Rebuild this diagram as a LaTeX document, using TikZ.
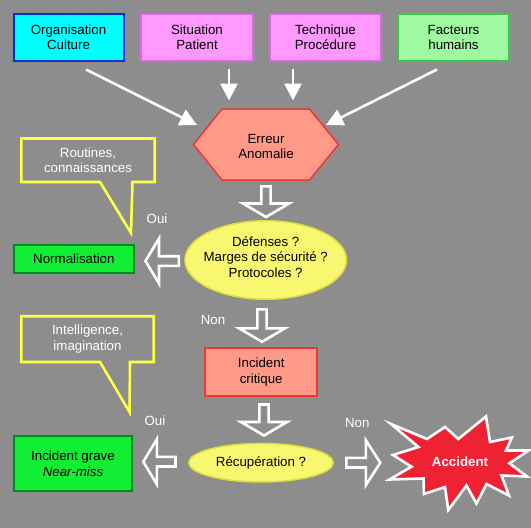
\documentclass[tikz,border=0pt]{standalone}
\usepackage{fontspec}
\setmainfont{Liberation Sans}
\usetikzlibrary{calc,arrows.meta,shapes.geometric}
\definecolor{bg}{RGB}{141,141,141}
\definecolor{cyanF}{RGB}{0,255,255}
\definecolor{cyanB}{RGB}{0,51,204}
\definecolor{pinkF}{RGB}{255,153,255}
\definecolor{pinkB}{RGB}{228,96,228}
\definecolor{ltgreenF}{RGB}{160,248,160}
\definecolor{ltgreenB}{RGB}{51,204,68}
\definecolor{salmonF}{RGB}{255,153,136}
\definecolor{salmonB}{RGB}{232,56,56}
\definecolor{yelF}{RGB}{248,248,112}
\definecolor{yelB}{RGB}{222,222,60}
\definecolor{greenF}{RGB}{17,238,51}
\definecolor{greenB}{RGB}{0,140,30}
\definecolor{calloutY}{RGB}{255,255,68}
\definecolor{accRed}{RGB}{238,34,51}
\newcommand\hollowdown[2]{%
  \draw[hollow] let \p1=(#1), \p2=(#2) in
  (\x1-4.6pt,\y1) -- (\x1+4.6pt,\y1) -- (\x1+4.6pt,\y2+13.5pt) -- (\x1+23pt,\y2+13.5pt)
  -- (\x1,\y2) -- (\x1-23pt,\y2+13.5pt) -- (\x1-4.6pt,\y2+13.5pt) -- cycle;}
\newcommand\hollowleft[2]{%
  \draw[hollow] let \p1=(#1), \p2=(#2) in
  (\x1,\y1-4.8pt) -- (\x1,\y1+4.8pt) -- (\x2+13.5pt,\y1+4.8pt) -- (\x2+13.5pt,\y1+22.5pt)
  -- (\x2,\y1) -- (\x2+13.5pt,\y1-22.5pt) -- (\x2+13.5pt,\y1-4.8pt) -- cycle;}
\newcommand\hollowright[2]{%
  \draw[hollow] let \p1=(#1), \p2=(#2) in
  (\x1,\y1-4.8pt) -- (\x1,\y1+4.8pt) -- (\x2-14.5pt,\y1+4.8pt) -- (\x2-14.5pt,\y1+22.5pt)
  -- (\x2,\y1) -- (\x2-14.5pt,\y1-22.5pt) -- (\x2-14.5pt,\y1-4.8pt) -- cycle;}
\begin{document}
\begin{tikzpicture}[x=1pt,y=-1pt,
  every node/.style={font=\fontsize{13.3}{15.3}\selectfont, align=center, inner sep=0pt},
  box/.style={rectangle, line width=2pt},
  thinarrow/.style={draw=white, line width=2.6pt, -{Triangle[length=17pt,width=17pt]}},
  hollow/.style={draw=white, line width=2.6pt, line join=miter, fill=none},
  callout/.style={draw=calloutY, line width=2.6pt, line join=miter},
  lbl/.style={text=white}]
\fill[bg] (0,0) rectangle (531,528);
\useasboundingbox (0,0) rectangle (531,528);

% top boxes
\node[box, fill=cyanF, draw=cyanB, minimum width=110, minimum height=47.5] (org) at (68.5,37.3) {Organisation\\Culture};
\node[box, fill=pinkF, draw=pinkB, minimum width=112, minimum height=47.5] (sit) at (197,37.3) {Situation\\Patient};
\node[box, fill=pinkF, draw=pinkB, minimum width=111, minimum height=47.5] (tech) at (325.5,37.3) {Technique\\Procédure};
\node[box, fill=ltgreenF, draw=ltgreenB, minimum width=111, minimum height=47.5] (fact) at (453.5,37.3) {Facteurs\\humains};

% hexagon
\coordinate (h1) at (193.5,144.5);
\coordinate (h2) at (222,109);
\coordinate (h3) at (309.5,109);
\coordinate (h4) at (338.5,144.5);
\coordinate (h5) at (309.5,180);
\coordinate (h6) at (222,180);
\draw[fill=salmonF, draw=salmonB, line width=1.5pt, line join=miter] (h1) -- (h2) -- (h3) -- (h4) -- (h5) -- (h6) -- cycle;
\node (err) at (266,146.5) {Erreur\\Anomalie};

% thin arrows
\coordinate (o1) at (86,69.5);
\coordinate (e1) at (197,125);
\coordinate (s1) at (229,69);
\coordinate (e2) at (229,100.5);
\coordinate (t1) at (293,69);
\coordinate (e3) at (293,100.5);
\coordinate (f1) at (437,69.5);
\coordinate (e4) at (326,125);
\draw[thinarrow] (o1) -- (e1);
\draw[thinarrow] (s1) -- (e2);
\draw[thinarrow] (t1) -- (e3);
\draw[thinarrow] (f1) -- (e4);

% defenses ellipse
\node[ellipse, draw=yelB, fill=yelF, line width=1.5pt, minimum width=161.5, minimum height=78.5] (def) at (265.7,260) {};
\node (deftxt) at (265.7,257) {Défenses ?\\Marges de sécurité ?\\Protocoles ?};

% hollow arrows
\coordinate (a1s) at (266,186.3);
\coordinate (a1t) at (266,217);
\hollowdown{a1s}{a1t}
\coordinate (b1s) at (178.8,261);
\coordinate (b1t) at (145.5,261);
\hollowleft{b1s}{b1t}
\coordinate (a2s) at (262,309.3);
\coordinate (a2t) at (262,341.8);
\hollowdown{a2s}{a2t}
\coordinate (a3s) at (264,404.5);
\coordinate (a3t) at (264,435.5);
\hollowdown{a3s}{a3t}
\coordinate (b2s) at (175.5,461.7);
\coordinate (b2t) at (143.3,461.7);
\hollowleft{b2s}{b2t}
\coordinate (c1s) at (346.3,462.7);
\coordinate (c1t) at (380.3,462.7);
\hollowright{c1s}{c1t}

% normalisation
\node[box, fill=greenF, draw=greenB, minimum width=120.3, minimum height=28] (norm) at (73.9,259) {Normalisation};

% callouts
\draw[callout] (21.3,138.5) -- (154.7,138.5) -- (154.7,182) -- (132.5,182) -- (131,233) -- (100,182) -- (21.3,182) -- cycle;
\node[lbl] (rout) at (88,160.3) {Routines,\\connaissances};
\draw[callout] (21.3,316.2) -- (153.7,316.2) -- (153.7,362) -- (130,362) -- (129.5,412) -- (100,362) -- (21.3,362) -- cycle;
\node[lbl] (intel) at (87.5,339) {Intelligence,\\imagination};

% labels
\node[lbl] (oui1) at (157,219) {Oui};
\node[lbl] (non1) at (213,319.5) {Non};
\node[lbl] (oui2) at (155,421) {Oui};
\node[lbl] (non2) at (357.3,423) {Non};

% incident critique
\node[box, fill=salmonF, draw=salmonB, minimum width=112.3, minimum height=48.6] (crit) at (261.2,372) {Incident\\critique};

% recuperation
\node[ellipse, draw=yelB, fill=yelF, line width=1.5pt, minimum width=144.5, minimum height=38.5] (rec) at (261,462.7) {Récupération ?};

% incident grave
\node[box, fill=greenF, draw=greenB, minimum width=118.6, minimum height=55.3] (grave) at (73,463.7) {Incident grave\\\textit{Near-miss}};

% accident starburst
\draw[fill=accRed, draw=white, line width=2.6pt, line join=miter]
  (391,424) -- (427,439) -- (445,427) -- (458.3,439) -- (486,416.5) -- (490,442) -- (512,437.5)
  -- (506,450.5) -- (528.5,450.5) -- (509.5,463.3) -- (527,476.5) -- (501.5,475.5) -- (509,495.5)
  -- (486.5,484) -- (476.5,503.5) -- (466.5,485.5) -- (448.3,510) -- (445,487) -- (424,494)
  -- (423.5,478.5) -- (389.5,479.5) -- (411.5,466.7) -- (393,455) -- (418.5,447) -- cycle;
\node[text=white, font=\fontsize{13.3}{15.3}\selectfont\bfseries] (acc) at (460,462) {Accident};
\end{tikzpicture}
\end{document}
